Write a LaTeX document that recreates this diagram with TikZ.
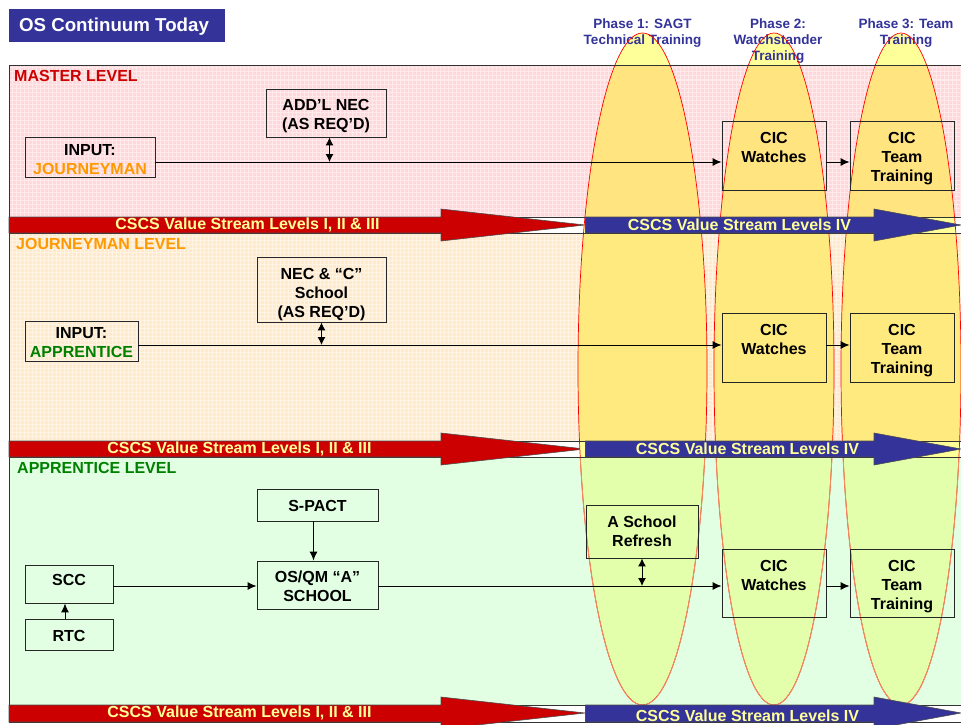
\documentclass[tikz,border=0pt]{standalone}
\usepackage{fontspec}
\setmainfont{Liberation Sans}
\usetikzlibrary{arrows.meta,shapes.geometric}
\definecolor{navy}{RGB}{51,51,153}
\definecolor{deepred}{RGB}{204,0,0}
\definecolor{pinkband}{RGB}{255,216,220}
\definecolor{orangeband}{RGB}{255,234,204}
\definecolor{greenband}{RGB}{227,255,227}
\definecolor{cream}{RGB}{255,255,153}
\definecolor{ypink}{RGB}{255,228,128}
\definecolor{yorange}{RGB}{255,234,128}
\definecolor{ygreen}{RGB}{227,255,172}
\definecolor{jorange}{RGB}{255,153,0}
\definecolor{agreen}{RGB}{0,128,0}
\newcommand\dn[1]{\rule{0pt}{\dimexpr 12pt+#1pt+#1pt\relax}}
\tikzset{
 x=1pt,y=-1pt,
 box/.style={draw=black!85,line width=0.9pt,align=center,inner sep=0pt,font=\fontsize{16}{19}\selectfont\bfseries,anchor=center},
 band/.style={draw=black!80,line width=0.8pt},
 texture/.style={white,opacity=0.45,line width=1pt},
 level/.style={font=\fontsize{16}{18}\selectfont\bfseries,anchor=west,inner sep=0pt},
 phase/.style={font=\fontsize{13.5}{16}\selectfont\bfseries,text=navy,align=center,inner sep=0pt},
 phaseell/.style={draw=red,line width=0.7pt,ellipse,inner sep=0pt},
 stream/.style={font=\fontsize{16}{18}\selectfont\bfseries,text=cream,inner sep=0pt},
 flow/.style={line width=1pt,-{Latex[length=9pt,width=8pt]}},
 both/.style={line width=1pt,{Latex[length=8pt,width=8pt]}-{Latex[length=8pt,width=8pt]}},
 redarrow/.style={fill=deepred,draw=black!70,line width=0.6pt},
 bluearrow/.style={fill=navy,draw=black!70,line width=0.6pt}
}
\begin{document}
\begin{tikzpicture}
\useasboundingbox (0,0) rectangle (961,725);
\fill[white] (0,0) rectangle (961,725);
% title
\node[fill=navy,text=white,minimum width=216pt,minimum height=33pt,inner sep=0pt,font=\fontsize{18.7}{20}\selectfont\bfseries] (title) at (117,25.5) {\dn{1.5}OS Continuum Today\hspace*{6pt}};
% bands
\fill[pinkband] (9,65) rectangle (961,217);
\draw[texture,step=4pt] (9,65) grid (961,217);
\fill[orangeband] (9,233) rectangle (961,441);
\draw[texture,step=4pt] (9,233) grid (961,441);
\fill[greenband] (9,457) rectangle (961,705);
\draw[band] (9,65) rectangle (961,217);
\draw[band] (9,217) rectangle (961,233);
\draw[band] (9,233) rectangle (961,441);
\draw[band] (9,441) rectangle (961,457);
\draw[band] (9,457) rectangle (961,705);
\draw[band] (9,705) rectangle (961,722);
% red arrows
\draw[redarrow] (9,217) -- (441,217) -- (441,209) -- (585,225) -- (441,241) -- (441,233) -- (9,233) -- cycle;
\draw[redarrow] (9,441) -- (441,441) -- (441,433) -- (585,449) -- (441,465) -- (441,457) -- (9,457) -- cycle;
\draw[redarrow] (9,705) -- (441,705) -- (441,697) -- (585,713) -- (441,729) -- (441,722) -- (9,722) -- cycle;
% ellipse fills: colours as seen through the overlay
\foreach \cx/\hw in {642.5/64.5,774/60,901/60}{
 \begin{scope}
  \clip (\cx,369) ellipse [x radius=\hw, y radius=336];
  \fill[cream] (500,0) rectangle (1000,725);
  \fill[ypink] (500,65) rectangle (1000,217);
  \fill[yorange] (500,233) rectangle (1000,441);
  \fill[ygreen] (500,457) rectangle (1000,705);
 \end{scope}
}
% phase captions
\node[phase] (p1) at (642.5,33) {Phase 1: SAGT\\Technical Training};
\node[phase] (p2) at (778,41) {Phase 2:\\Watchstander\\Training};
\node[phase] (p3) at (906,33) {Phase 3: Team\\Training};
% ellipse outlines
\foreach \cx/\hw/\nm in {642.5/64.5/e1,774/60/e2,901/60/e3}{
 \node[phaseell,minimum width=2*\hw*1pt,minimum height=672pt] (\nm) at (\cx,369) {};
 \begin{scope}
  \clip (500,457) rectangle (1000,725);
  \draw[red!45!ygreen,line width=0.9pt] (\cx,369) ellipse [x radius=\hw, y radius=336];
 \end{scope}
}
% band rules seen through the ellipses
\draw[black!80,line width=0.8pt] (578,65) -- (961,65);
\draw[black!80,line width=0.8pt] (578,217) -- (961,217) (578,233) -- (961,233);
\draw[black!80,line width=0.8pt] (578,441) -- (961,441) (578,457) -- (961,457);
\draw[black!80,line width=0.8pt] (578,705) -- (961,705) (578,722) -- (961,722);
% level labels
\node[level,text=deepred] (lm) at (14,76) {MASTER LEVEL};
\node[level,text=jorange] (lj) at (16,243.5) {JOURNEYMAN LEVEL};
\node[level,text=agreen] (la) at (17,467.5) {APPRENTICE LEVEL};
% blue arrows
\draw[bluearrow] (585.5,217) -- (874,217) -- (874,209) -- (961,225) -- (874,241) -- (874,233) -- (585.5,233) -- cycle;
\draw[bluearrow] (585.5,441) -- (874,441) -- (874,433) -- (961,449) -- (874,465) -- (874,457) -- (585.5,457) -- cycle;
\draw[bluearrow] (585.5,705) -- (874,705) -- (874,697) -- (961,713) -- (874,729) -- (874,722) -- (585.5,722) -- cycle;
% stream labels
\node[stream] (s1) at (247.5,225) {CSCS Value Stream Levels I, II \& III};
\node[stream] (s2) at (239.5,449) {CSCS Value Stream Levels I, II \& III};
\node[stream] (s3) at (239.5,713) {CSCS Value Stream Levels I, II \& III};
\node[stream] (s4) at (739.5,225) {CSCS Value Stream Levels IV};
\node[stream] (s5) at (747.5,449) {CSCS Value Stream Levels IV};
\node[stream] (s6) at (747.5,715.5) {CSCS Value Stream Levels IV};
% boxes: row 1
\node[box,minimum width=120pt,minimum height=48pt] (nec1) at (326,113) {\dn{3}ADD’L NEC\\(AS REQ’D)};
\node[box,minimum width=130pt,minimum height=40pt] (in1) at (90,157) {\dn{2}INPUT:\\\textcolor{jorange}{JOURNEYMAN}};
\node[box,minimum width=104pt,minimum height=69pt] (cw1) at (774,155.5) {\dn{4}CIC\\Watches\\\strut};
\node[box,minimum width=104pt,minimum height=69pt] (ct1) at (902,155.5) {\dn{3}CIC\\Team\\Training};
% row 2
\node[box,minimum width=129pt,minimum height=65pt] (nec2) at (321.5,289.5) {\dn{5}NEC \& “C”\\School\\(AS REQ’D)};
\node[box,minimum width=113pt,minimum height=40pt] (in2) at (81.5,341) {\dn{1}INPUT:\\\textcolor{agreen}{APPRENTICE}};
\node[box,minimum width=104pt,minimum height=69pt] (cw2) at (774,347.5) {\dn{4}CIC\\Watches\\\strut};
\node[box,minimum width=104pt,minimum height=69pt] (ct2) at (902,347.5) {\dn{3}CIC\\Team\\Training};
% row 3
\node[box,minimum width=121pt,minimum height=32pt] (spact) at (317.5,505) {\dn{1}S-PACT};
\node[box,minimum width=121pt,minimum height=48pt] (os) at (317.5,585) {\dn{1}OS/QM “A”\\SCHOOL};
\node[box,minimum width=88pt,minimum height=38pt] (scc) at (69,584) {SCC\rule[-8pt]{0pt}{1pt}};
\node[box,minimum width=88pt,minimum height=31pt] (rtc) at (69,634.5) {\dn{1}RTC};
\node[box,minimum width=112pt,minimum height=53pt] (asr) at (642,531.5) {A School\\Refresh};
\node[box,minimum width=104pt,minimum height=68pt] (cw3) at (774,583) {\dn{4}CIC\\Watches\\\strut};
\node[box,minimum width=104pt,minimum height=68pt] (ct3) at (902,583) {\dn{3}CIC\\Team\\Training};
% connector helper points
\coordinate (l1) at (329.5,162);
\coordinate (l2) at (321.5,345);
\coordinate (l3) at (642,586);
\coordinate (lr) at (65,0);
\coordinate (ls) at (313.5,0);
% connectors
\draw[flow] (in1.east |- l1) -- (cw1.west |- l1);
\draw[flow] (cw1.east |- l1) -- (ct1.west |- l1);
\draw[both] (nec1.south -| l1) -- (l1);
\draw[flow] (in2.east |- l2) -- (cw2.west |- l2);
\draw[flow] (cw2.east |- l2) -- (ct2.west |- l2);
\draw[both] (nec2.south -| l2) -- (l2);
\draw[flow] (scc.east |- l3) -- (os.west |- l3);
\draw[flow] (os.east |- l3) -- (cw3.west |- l3);
\draw[flow] (cw3.east |- l3) -- (ct3.west |- l3);
\draw[both] (asr.south) -- (l3);
\draw[flow] (rtc.north -| lr) -- (scc.south -| lr);
\draw[flow] (spact.south -| ls) -- (os.north -| ls);
\end{tikzpicture}
\end{document}
